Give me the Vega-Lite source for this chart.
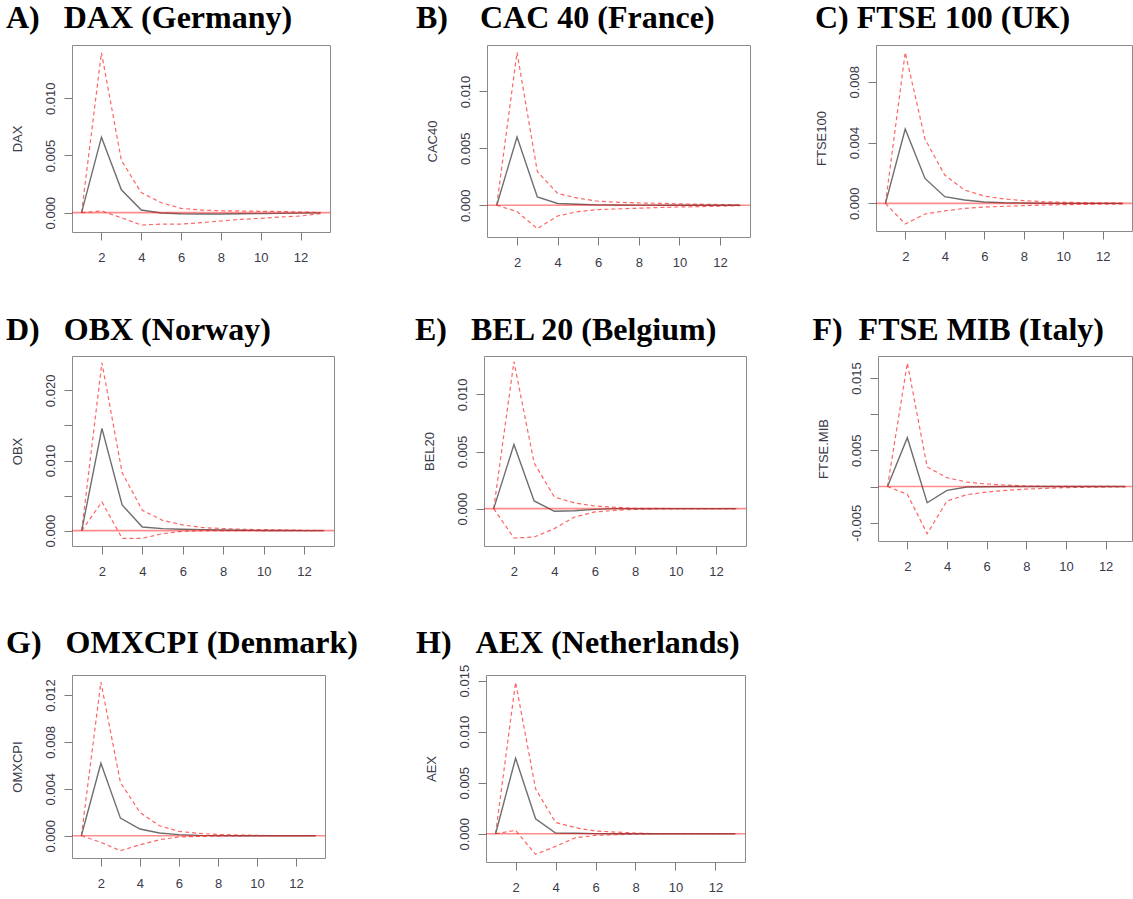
{
  "$schema": "https://vega.github.io/schema/vega-lite/v6.json",
  "background": "white",
  "padding": {"left": 5, "top": 1, "right": 0, "bottom": 0},
  "datasets": {
    "A": [
      {"h": 1, "irf": 0, "lo": 0, "hi": 0},
      {"h": 2, "irf": 0.0066, "lo": 0.00015, "hi": 0.0140},
      {"h": 3, "irf": 0.0020, "lo": -0.00044, "hi": 0.00458},
      {"h": 4, "irf": 0.00023, "lo": -0.00108, "hi": 0.00175},
      {"h": 5, "irf": -0.00003, "lo": -0.0010, "hi": 0.00087},
      {"h": 6, "irf": -0.0001, "lo": -0.0010, "hi": 0.00038},
      {"h": 7, "irf": -0.00012, "lo": -0.00087, "hi": 0.00023},
      {"h": 8, "irf": -0.00012, "lo": -0.00073, "hi": 0.00017},
      {"h": 9, "irf": -0.0001, "lo": -0.00058, "hi": 0.00015},
      {"h": 10, "irf": -0.00008, "lo": -0.0005, "hi": 0.00012},
      {"h": 11, "irf": -0.00006, "lo": -0.00038, "hi": 0.0001},
      {"h": 12, "irf": -0.00004, "lo": -0.00029, "hi": 0.00006},
      {"h": 13, "irf": -0.00002, "lo": -0.00009, "hi": 0.00002}
    ],
    "B": [
      {"h": 1, "irf": 0, "lo": 0, "hi": 0},
      {"h": 2, "irf": 0.0060, "lo": -0.00056, "hi": 0.01343},
      {"h": 3, "irf": 0.00073, "lo": -0.00205, "hi": 0.00296},
      {"h": 4, "irf": 0.00015, "lo": -0.00094, "hi": 0.00103},
      {"h": 5, "irf": 0.00009, "lo": -0.00056, "hi": 0.00062},
      {"h": 6, "irf": 0.00003, "lo": -0.00038, "hi": 0.00035},
      {"h": 7, "irf": 0.00002, "lo": -0.00032, "hi": 0.00026},
      {"h": 8, "irf": 0.00001, "lo": -0.00026, "hi": 0.0002},
      {"h": 9, "irf": 0, "lo": -0.0002, "hi": 0.00017},
      {"h": 10, "irf": 0, "lo": -0.00015, "hi": 0.00012},
      {"h": 11, "irf": 0, "lo": -0.00012, "hi": 0.00009},
      {"h": 12, "irf": 0, "lo": -0.00009, "hi": 0.00006},
      {"h": 13, "irf": 0, "lo": -0.00003, "hi": 0.00003}
    ],
    "C": [
      {"h": 1, "irf": 0, "lo": 0, "hi": 0},
      {"h": 2, "irf": 0.00489, "lo": -0.00136, "hi": 0.00993},
      {"h": 3, "irf": 0.00164, "lo": -0.0007, "hi": 0.00423},
      {"h": 4, "irf": 0.00044, "lo": -0.0005, "hi": 0.00186},
      {"h": 5, "irf": 0.00022, "lo": -0.00033, "hi": 0.00088},
      {"h": 6, "irf": 0.00009, "lo": -0.00024, "hi": 0.00048},
      {"h": 7, "irf": 0.00004, "lo": -0.0002, "hi": 0.00029},
      {"h": 8, "irf": 0.00002, "lo": -0.00015, "hi": 0.00018},
      {"h": 9, "irf": 0.00001, "lo": -0.00011, "hi": 0.00011},
      {"h": 10, "irf": 0, "lo": -0.00009, "hi": 0.00007},
      {"h": 11, "irf": 0, "lo": -0.00007, "hi": 0.00005},
      {"h": 12, "irf": 0, "lo": -0.00005, "hi": 0.00003},
      {"h": 13, "irf": 0, "lo": -0.00005, "hi": 0.00002}
    ],
    "D": [
      {"h": 1, "irf": 0, "lo": 0, "hi": 0},
      {"h": 2, "irf": 0.01458, "lo": 0.00409, "hi": 0.02394},
      {"h": 3, "irf": 0.00366, "lo": -0.00109, "hi": 0.00827},
      {"h": 4, "irf": 0.00052, "lo": -0.00109, "hi": 0.0029},
      {"h": 5, "irf": 0.00029, "lo": -0.00043, "hi": 0.00147},
      {"h": 6, "irf": 0.00019, "lo": -0.0001, "hi": 0.00081},
      {"h": 7, "irf": 0.00014, "lo": 0, "hi": 0.00043},
      {"h": 8, "irf": 0.0001, "lo": 0, "hi": 0.00029},
      {"h": 9, "irf": 0.00005, "lo": 0, "hi": 0.00019},
      {"h": 10, "irf": 0.00002, "lo": 0, "hi": 0.00014},
      {"h": 11, "irf": 0.00001, "lo": 0, "hi": 0.0001},
      {"h": 12, "irf": 0, "lo": 0, "hi": 0.00005},
      {"h": 13, "irf": 0, "lo": 0, "hi": 0.00002}
    ],
    "E": [
      {"h": 1, "irf": 0, "lo": 0, "hi": 0},
      {"h": 2, "irf": 0.00561, "lo": -0.00257, "hi": 0.01287},
      {"h": 3, "irf": 0.00067, "lo": -0.00249, "hi": 0.0040},
      {"h": 4, "irf": -0.00023, "lo": -0.00175, "hi": 0.00102},
      {"h": 5, "irf": -0.00018, "lo": -0.00073, "hi": 0.0005},
      {"h": 6, "irf": -0.00006, "lo": -0.00029, "hi": 0.00023},
      {"h": 7, "irf": 0, "lo": -0.00015, "hi": 0.00012},
      {"h": 8, "irf": 0, "lo": -0.00006, "hi": 0.00003},
      {"h": 9, "irf": 0, "lo": -0.00003, "hi": 0.00003},
      {"h": 10, "irf": 0, "lo": -0.00001, "hi": 0.00001},
      {"h": 11, "irf": 0, "lo": 0, "hi": 0},
      {"h": 12, "irf": 0, "lo": 0, "hi": 0},
      {"h": 13, "irf": 0, "lo": 0, "hi": 0}
    ],
    "F": [
      {"h": 1, "irf": 0, "lo": 0, "hi": 0},
      {"h": 2, "irf": 0.00675, "lo": -0.00108, "hi": 0.01707},
      {"h": 3, "irf": -0.00224, "lo": -0.00652, "hi": 0.0027},
      {"h": 4, "irf": -0.00053, "lo": -0.0020, "hi": 0.00122},
      {"h": 5, "irf": -0.00007, "lo": -0.00113, "hi": 0.00062},
      {"h": 6, "irf": -0.00003, "lo": -0.00076, "hi": 0.00035},
      {"h": 7, "irf": 0, "lo": -0.00053, "hi": 0.0002},
      {"h": 8, "irf": 0, "lo": -0.00035, "hi": 0.00007},
      {"h": 9, "irf": 0, "lo": -0.00025, "hi": 0.00003},
      {"h": 10, "irf": 0, "lo": -0.00015, "hi": 0.00002},
      {"h": 11, "irf": 0, "lo": -0.0001, "hi": 0.00001},
      {"h": 12, "irf": 0, "lo": -0.00007, "hi": 0.00001},
      {"h": 13, "irf": 0, "lo": -0.00004, "hi": 0}
    ],
    "G": [
      {"h": 1, "irf": 0, "lo": 0, "hi": 0},
      {"h": 2, "irf": 0.00618, "lo": -0.00057, "hi": 0.0131},
      {"h": 3, "irf": 0.0015, "lo": -0.00128, "hi": 0.00454},
      {"h": 4, "irf": 0.00057, "lo": -0.00077, "hi": 0.00199},
      {"h": 5, "irf": 0.00023, "lo": -0.00034, "hi": 0.00085},
      {"h": 6, "irf": 0.00009, "lo": -0.00011, "hi": 0.00037},
      {"h": 7, "irf": 0.00003, "lo": -0.00006, "hi": 0.0002},
      {"h": 8, "irf": 0.00001, "lo": -0.00003, "hi": 0.00011},
      {"h": 9, "irf": 0, "lo": -0.00001, "hi": 0.00006},
      {"h": 10, "irf": 0, "lo": 0, "hi": 0.00003},
      {"h": 11, "irf": 0, "lo": 0, "hi": 0},
      {"h": 12, "irf": 0, "lo": 0, "hi": 0},
      {"h": 13, "irf": 0, "lo": 0, "hi": 0}
    ],
    "H": [
      {"h": 1, "irf": 0, "lo": 0, "hi": 0},
      {"h": 2, "irf": 0.0074, "lo": 0.00033, "hi": 0.01484},
      {"h": 3, "irf": 0.00147, "lo": -0.00202, "hi": 0.0044},
      {"h": 4, "irf": 0.00007, "lo": -0.00124, "hi": 0.00111},
      {"h": 5, "irf": 0.00005, "lo": -0.00039, "hi": 0.00059},
      {"h": 6, "irf": 0.00001, "lo": -0.00016, "hi": 0.00026},
      {"h": 7, "irf": 0, "lo": -0.0001, "hi": 0.00016},
      {"h": 8, "irf": 0, "lo": -0.00005, "hi": 0.00007},
      {"h": 9, "irf": 0, "lo": 0, "hi": 0},
      {"h": 10, "irf": 0, "lo": 0, "hi": 0},
      {"h": 11, "irf": 0, "lo": 0, "hi": 0},
      {"h": 12, "irf": 0, "lo": 0, "hi": 0},
      {"h": 13, "irf": 0, "lo": 0, "hi": 0}
    ],
    "zero": [{"v": 0}]
  },
  "concat": [
    {
      "concat": [
        {
          "width": 258, "height": 187,
          "title": {"text": "A)\u00a0\u00a0\u00a0DAX (Germany)", "dx": -66, "offset": 10},
          "layer": [
            {"data": {"name": "A"}, "mark": {"type": "line", "color": "#ff4a4a", "strokeDash": [4, 3], "strokeWidth": 1.2, "opacity": 0.85},
             "encoding": {
               "x": {"field": "h", "type": "quantitative", "scale": {"domain": [0.52, 13.48], "nice": false, "zero": false}, "axis": {"values": [2, 4, 6, 8, 10, 12], "title": null}},
               "y": {"field": "hi", "type": "quantitative", "title": "DAX", "scale": {"domain": [-0.00169, 0.01466], "nice": false, "zero": false}, "axis": {"values": [0, 0.005, 0.01], "titleY": 93.5}}}},
            {"data": {"name": "A"}, "mark": {"type": "line", "color": "#ff4a4a", "strokeDash": [4, 3], "strokeWidth": 1.2, "opacity": 0.85},
             "encoding": {"x": {"field": "h", "type": "quantitative"}, "y": {"field": "lo", "type": "quantitative", "title": "DAX"}}},
            {"data": {"name": "A"}, "mark": {"type": "line", "color": "#6e6e6e", "strokeWidth": 1.4},
             "encoding": {"x": {"field": "h", "type": "quantitative"}, "y": {"field": "irf", "type": "quantitative", "title": "DAX"}}},
            {"data": {"name": "zero"}, "mark": {"type": "rule", "color": "#ff0000", "opacity": 0.45, "strokeWidth": 1.6},
             "encoding": {"y": {"field": "v", "type": "quantitative", "title": "DAX"}}}
          ]
        },
        {
          "concat": [
            {
              "width": 263, "height": 192,
              "title": {"text": "B)\u00a0\u00a0\u00a0\u00a0CAC 40 (France)", "dx": -71, "offset": 10},
              "layer": [
                {"data": {"name": "B"}, "mark": {"type": "line", "color": "#ff4a4a", "strokeDash": [4, 3], "strokeWidth": 1.2, "opacity": 0.85},
                 "encoding": {
                   "x": {"field": "h", "type": "quantitative", "scale": {"domain": [0.52, 13.48], "nice": false, "zero": false}, "axis": {"values": [2, 4, 6, 8, 10, 12], "title": null}},
                   "y": {"field": "hi", "type": "quantitative", "title": "CAC40", "scale": {"domain": [-0.00279, 0.01408], "nice": false, "zero": false}, "axis": {"values": [0, 0.005, 0.01], "titleY": 96}}}},
                {"data": {"name": "B"}, "mark": {"type": "line", "color": "#ff4a4a", "strokeDash": [4, 3], "strokeWidth": 1.2, "opacity": 0.85},
                 "encoding": {"x": {"field": "h", "type": "quantitative"}, "y": {"field": "lo", "type": "quantitative", "title": "CAC40"}}},
                {"data": {"name": "B"}, "mark": {"type": "line", "color": "#6e6e6e", "strokeWidth": 1.4},
                 "encoding": {"x": {"field": "h", "type": "quantitative"}, "y": {"field": "irf", "type": "quantitative", "title": "CAC40"}}},
                {"data": {"name": "zero"}, "mark": {"type": "rule", "color": "#ff0000", "opacity": 0.45, "strokeWidth": 1.6},
                 "encoding": {"y": {"field": "v", "type": "quantitative", "title": "CAC40"}}}
              ]
            },
            {
              "width": 256, "height": 186,
              "title": {"text": "C)\u00a0FTSE 100 (UK)", "dx": -61, "offset": 10},
              "layer": [
                {"data": {"name": "C"}, "mark": {"type": "line", "color": "#ff4a4a", "strokeDash": [4, 3], "strokeWidth": 1.2, "opacity": 0.85},
                 "encoding": {
                   "x": {"field": "h", "type": "quantitative", "scale": {"domain": [0.52, 13.48], "nice": false, "zero": false}, "axis": {"values": [2, 4, 6, 8, 10, 12], "title": null}},
                   "y": {"field": "hi", "type": "quantitative", "title": "FTSE100", "scale": {"domain": [-0.00182, 0.01042], "nice": false, "zero": false}, "axis": {"values": [0, 0.002, 0.004, 0.006, 0.008, 0.01], "labelExpr": "round(datum.value*1000) % 4 == 0 ? datum.label : ''", "titleY": 93}}}},
                {"data": {"name": "C"}, "mark": {"type": "line", "color": "#ff4a4a", "strokeDash": [4, 3], "strokeWidth": 1.2, "opacity": 0.85},
                 "encoding": {"x": {"field": "h", "type": "quantitative"}, "y": {"field": "lo", "type": "quantitative", "title": "FTSE100"}}},
                {"data": {"name": "C"}, "mark": {"type": "line", "color": "#6e6e6e", "strokeWidth": 1.4},
                 "encoding": {"x": {"field": "h", "type": "quantitative"}, "y": {"field": "irf", "type": "quantitative", "title": "FTSE100"}}},
                {"data": {"name": "zero"}, "mark": {"type": "rule", "color": "#ff0000", "opacity": 0.45, "strokeWidth": 1.6},
                 "encoding": {"y": {"field": "v", "type": "quantitative", "title": "FTSE100"}}}
              ]
            }
          ],
          "columns": 2, "align": "none", "spacing": 62
        }
      ],
      "columns": 2, "align": "none", "spacing": 83
    },
    {
      "concat": [
        {
          "concat": [
            {
              "width": 262, "height": 190,
              "title": {"text": "D)\u00a0\u00a0\u00a0OBX (Norway)", "dx": -66, "offset": 9},
              "layer": [
                {"data": {"name": "D"}, "mark": {"type": "line", "color": "#ff4a4a", "strokeDash": [4, 3], "strokeWidth": 1.2, "opacity": 0.85},
                 "encoding": {
                   "x": {"field": "h", "type": "quantitative", "scale": {"domain": [0.52, 13.48], "nice": false, "zero": false}, "axis": {"values": [2, 4, 6, 8, 10, 12], "title": null}},
                   "y": {"field": "hi", "type": "quantitative", "title": "OBX", "scale": {"domain": [-0.00219, 0.0249], "nice": false, "zero": false}, "axis": {"values": [0, 0.005, 0.01, 0.015, 0.02], "labelExpr": "round(datum.value*1000) % 10 == 0 ? datum.label : ''", "titleY": 95}}}},
                {"data": {"name": "D"}, "mark": {"type": "line", "color": "#ff4a4a", "strokeDash": [4, 3], "strokeWidth": 1.2, "opacity": 0.85},
                 "encoding": {"x": {"field": "h", "type": "quantitative"}, "y": {"field": "lo", "type": "quantitative", "title": "OBX"}}},
                {"data": {"name": "D"}, "mark": {"type": "line", "color": "#6e6e6e", "strokeWidth": 1.4},
                 "encoding": {"x": {"field": "h", "type": "quantitative"}, "y": {"field": "irf", "type": "quantitative", "title": "OBX"}}},
                {"data": {"name": "zero"}, "mark": {"type": "rule", "color": "#ff0000", "opacity": 0.45, "strokeWidth": 1.6},
                 "encoding": {"y": {"field": "v", "type": "quantitative", "title": "OBX"}}}
              ]
            },
            {
              "concat": [
                {
                  "width": 262, "height": 190,
                  "title": {"text": "E)\u00a0\u00a0\u00a0BEL 20 (Belgium)", "dx": -69, "offset": 9},
                  "layer": [
                    {"data": {"name": "E"}, "mark": {"type": "line", "color": "#ff4a4a", "strokeDash": [4, 3], "strokeWidth": 1.2, "opacity": 0.85},
                     "encoding": {
                       "x": {"field": "h", "type": "quantitative", "scale": {"domain": [0.52, 13.48], "nice": false, "zero": false}, "axis": {"values": [2, 4, 6, 8, 10, 12], "title": null}},
                       "y": {"field": "hi", "type": "quantitative", "title": "BEL20", "scale": {"domain": [-0.00327, 0.01336], "nice": false, "zero": false}, "axis": {"values": [0, 0.005, 0.01], "titleY": 95}}}},
                    {"data": {"name": "E"}, "mark": {"type": "line", "color": "#ff4a4a", "strokeDash": [4, 3], "strokeWidth": 1.2, "opacity": 0.85},
                     "encoding": {"x": {"field": "h", "type": "quantitative"}, "y": {"field": "lo", "type": "quantitative", "title": "BEL20"}}},
                    {"data": {"name": "E"}, "mark": {"type": "line", "color": "#6e6e6e", "strokeWidth": 1.4},
                     "encoding": {"x": {"field": "h", "type": "quantitative"}, "y": {"field": "irf", "type": "quantitative", "title": "BEL20"}}},
                    {"data": {"name": "zero"}, "mark": {"type": "rule", "color": "#ff0000", "opacity": 0.45, "strokeWidth": 1.6},
                     "encoding": {"y": {"field": "v", "type": "quantitative", "title": "BEL20"}}}
                  ]
                },
                {
                  "width": 254, "height": 185,
                  "title": {"text": "F)\u00a0\u00a0FTSE MIB (Italy)", "dx": -65.6, "offset": 9},
                  "layer": [
                    {"data": {"name": "F"}, "mark": {"type": "line", "color": "#ff4a4a", "strokeDash": [4, 3], "strokeWidth": 1.2, "opacity": 0.85},
                     "encoding": {
                       "x": {"field": "h", "type": "quantitative", "scale": {"domain": [0.52, 13.33], "nice": false, "zero": false}, "axis": {"values": [2, 4, 6, 8, 10, 12], "title": null}},
                       "y": {"field": "hi", "type": "quantitative", "title": "FTSE.MIB", "scale": {"domain": [-0.00753, 0.01804], "nice": false, "zero": false}, "axis": {"values": [-0.005, 0, 0.005, 0.01, 0.015], "labelExpr": "round(datum.value*1000) % 10 != 0 ? replace(datum.label, '\u2212', '-') : ''", "titleY": 92.5}}}},
                    {"data": {"name": "F"}, "mark": {"type": "line", "color": "#ff4a4a", "strokeDash": [4, 3], "strokeWidth": 1.2, "opacity": 0.85},
                     "encoding": {"x": {"field": "h", "type": "quantitative"}, "y": {"field": "lo", "type": "quantitative", "title": "FTSE.MIB"}}},
                    {"data": {"name": "F"}, "mark": {"type": "line", "color": "#6e6e6e", "strokeWidth": 1.4},
                     "encoding": {"x": {"field": "h", "type": "quantitative"}, "y": {"field": "irf", "type": "quantitative", "title": "FTSE.MIB"}}},
                    {"data": {"name": "zero"}, "mark": {"type": "rule", "color": "#ff0000", "opacity": 0.45, "strokeWidth": 1.6},
                     "encoding": {"y": {"field": "v", "type": "quantitative", "title": "FTSE.MIB"}}}
                  ]
                }
              ],
              "columns": 2, "align": "none", "spacing": 63
            }
          ],
          "columns": 2, "align": "none", "spacing": 78
        },
        {
          "concat": [
            {
              "width": 253, "height": 183,
              "title": {"text": "G)\u00a0\u00a0\u00a0OMXCPI (Denmark)", "dx": -66, "offset": 15},
              "layer": [
                {"data": {"name": "G"}, "mark": {"type": "line", "color": "#ff4a4a", "strokeDash": [4, 3], "strokeWidth": 1.2, "opacity": 0.85},
                 "encoding": {
                   "x": {"field": "h", "type": "quantitative", "scale": {"domain": [0.52, 13.48], "nice": false, "zero": false}, "axis": {"values": [2, 4, 6, 8, 10, 12], "title": null}},
                   "y": {"field": "hi", "type": "quantitative", "title": "OMXCPI", "scale": {"domain": [-0.0019, 0.0137], "nice": false, "zero": false}, "axis": {"values": [0, 0.002, 0.004, 0.006, 0.008, 0.01, 0.012], "labelExpr": "round(datum.value*1000) % 4 == 0 ? datum.label : ''", "titleY": 91.5}}}},
                {"data": {"name": "G"}, "mark": {"type": "line", "color": "#ff4a4a", "strokeDash": [4, 3], "strokeWidth": 1.2, "opacity": 0.85},
                 "encoding": {"x": {"field": "h", "type": "quantitative"}, "y": {"field": "lo", "type": "quantitative", "title": "OMXCPI"}}},
                {"data": {"name": "G"}, "mark": {"type": "line", "color": "#6e6e6e", "strokeWidth": 1.4},
                 "encoding": {"x": {"field": "h", "type": "quantitative"}, "y": {"field": "irf", "type": "quantitative", "title": "OMXCPI"}}},
                {"data": {"name": "zero"}, "mark": {"type": "rule", "color": "#ff0000", "opacity": 0.45, "strokeWidth": 1.6},
                 "encoding": {"y": {"field": "v", "type": "quantitative", "title": "OMXCPI"}}}
              ]
            },
            {
              "width": 259, "height": 187,
              "title": {"text": "H)\u00a0\u00a0\u00a0AEX (Netherlands)", "dx": -70, "offset": 4.3},
              "layer": [
                {"data": {"name": "H"}, "mark": {"type": "line", "color": "#ff4a4a", "strokeDash": [4, 3], "strokeWidth": 1.2, "opacity": 0.85},
                 "encoding": {
                   "x": {"field": "h", "type": "quantitative", "scale": {"domain": [0.52, 13.48], "nice": false, "zero": false}, "axis": {"values": [2, 4, 6, 8, 10, 12], "title": null}},
                   "y": {"field": "hi", "type": "quantitative", "title": "AEX", "scale": {"domain": [-0.00277, 0.01555], "nice": false, "zero": false}, "axis": {"values": [0, 0.005, 0.01, 0.015], "titleY": 93.5}}}},
                {"data": {"name": "H"}, "mark": {"type": "line", "color": "#ff4a4a", "strokeDash": [4, 3], "strokeWidth": 1.2, "opacity": 0.85},
                 "encoding": {"x": {"field": "h", "type": "quantitative"}, "y": {"field": "lo", "type": "quantitative", "title": "AEX"}}},
                {"data": {"name": "H"}, "mark": {"type": "line", "color": "#6e6e6e", "strokeWidth": 1.4},
                 "encoding": {"x": {"field": "h", "type": "quantitative"}, "y": {"field": "irf", "type": "quantitative", "title": "AEX"}}},
                {"data": {"name": "zero"}, "mark": {"type": "rule", "color": "#ff0000", "opacity": 0.45, "strokeWidth": 1.6},
                 "encoding": {"y": {"field": "v", "type": "quantitative", "title": "AEX"}}}
              ]
            }
          ],
          "columns": 2, "align": "none", "spacing": 56
        }
      ],
      "columns": 1, "align": "none", "spacing": 47
    }
  ],
  "columns": 1, "align": "none", "spacing": 43,
  "config": {
    "view": {"stroke": "#8a8a8a", "strokeWidth": 1},
    "title": {"anchor": "start", "frame": "group", "baseline": "alphabetic", "font": "Liberation Serif", "fontSize": 32, "fontWeight": "bold", "color": "#000000"},
    "axis": {"domain": false, "grid": false, "ticks": true, "tickColor": "#7a7a7a", "tickSize": 8, "tickWidth": 1, "labelFont": "Liberation Sans", "labelFontSize": 13, "labelColor": "#3a3a48", "titleFont": "Liberation Sans", "titleFontSize": 13, "titleFontWeight": "normal", "titleColor": "#3a3a48"},
    "axisX": {"labelPadding": 11, "labelFlush": false, "labelOverlap": false, "labelAngle": 0, "format": "d"},
    "axisY": {"labelAngle": 270, "labelAlign": "center", "labelBaseline": "alphabetic", "labelPadding": 9.5, "labelFlush": false, "labelOverlap": false, "format": ".3f", "titleAngle": 270, "titleAlign": "center", "titleBaseline": "alphabetic", "titleX": -51}
  }
}
